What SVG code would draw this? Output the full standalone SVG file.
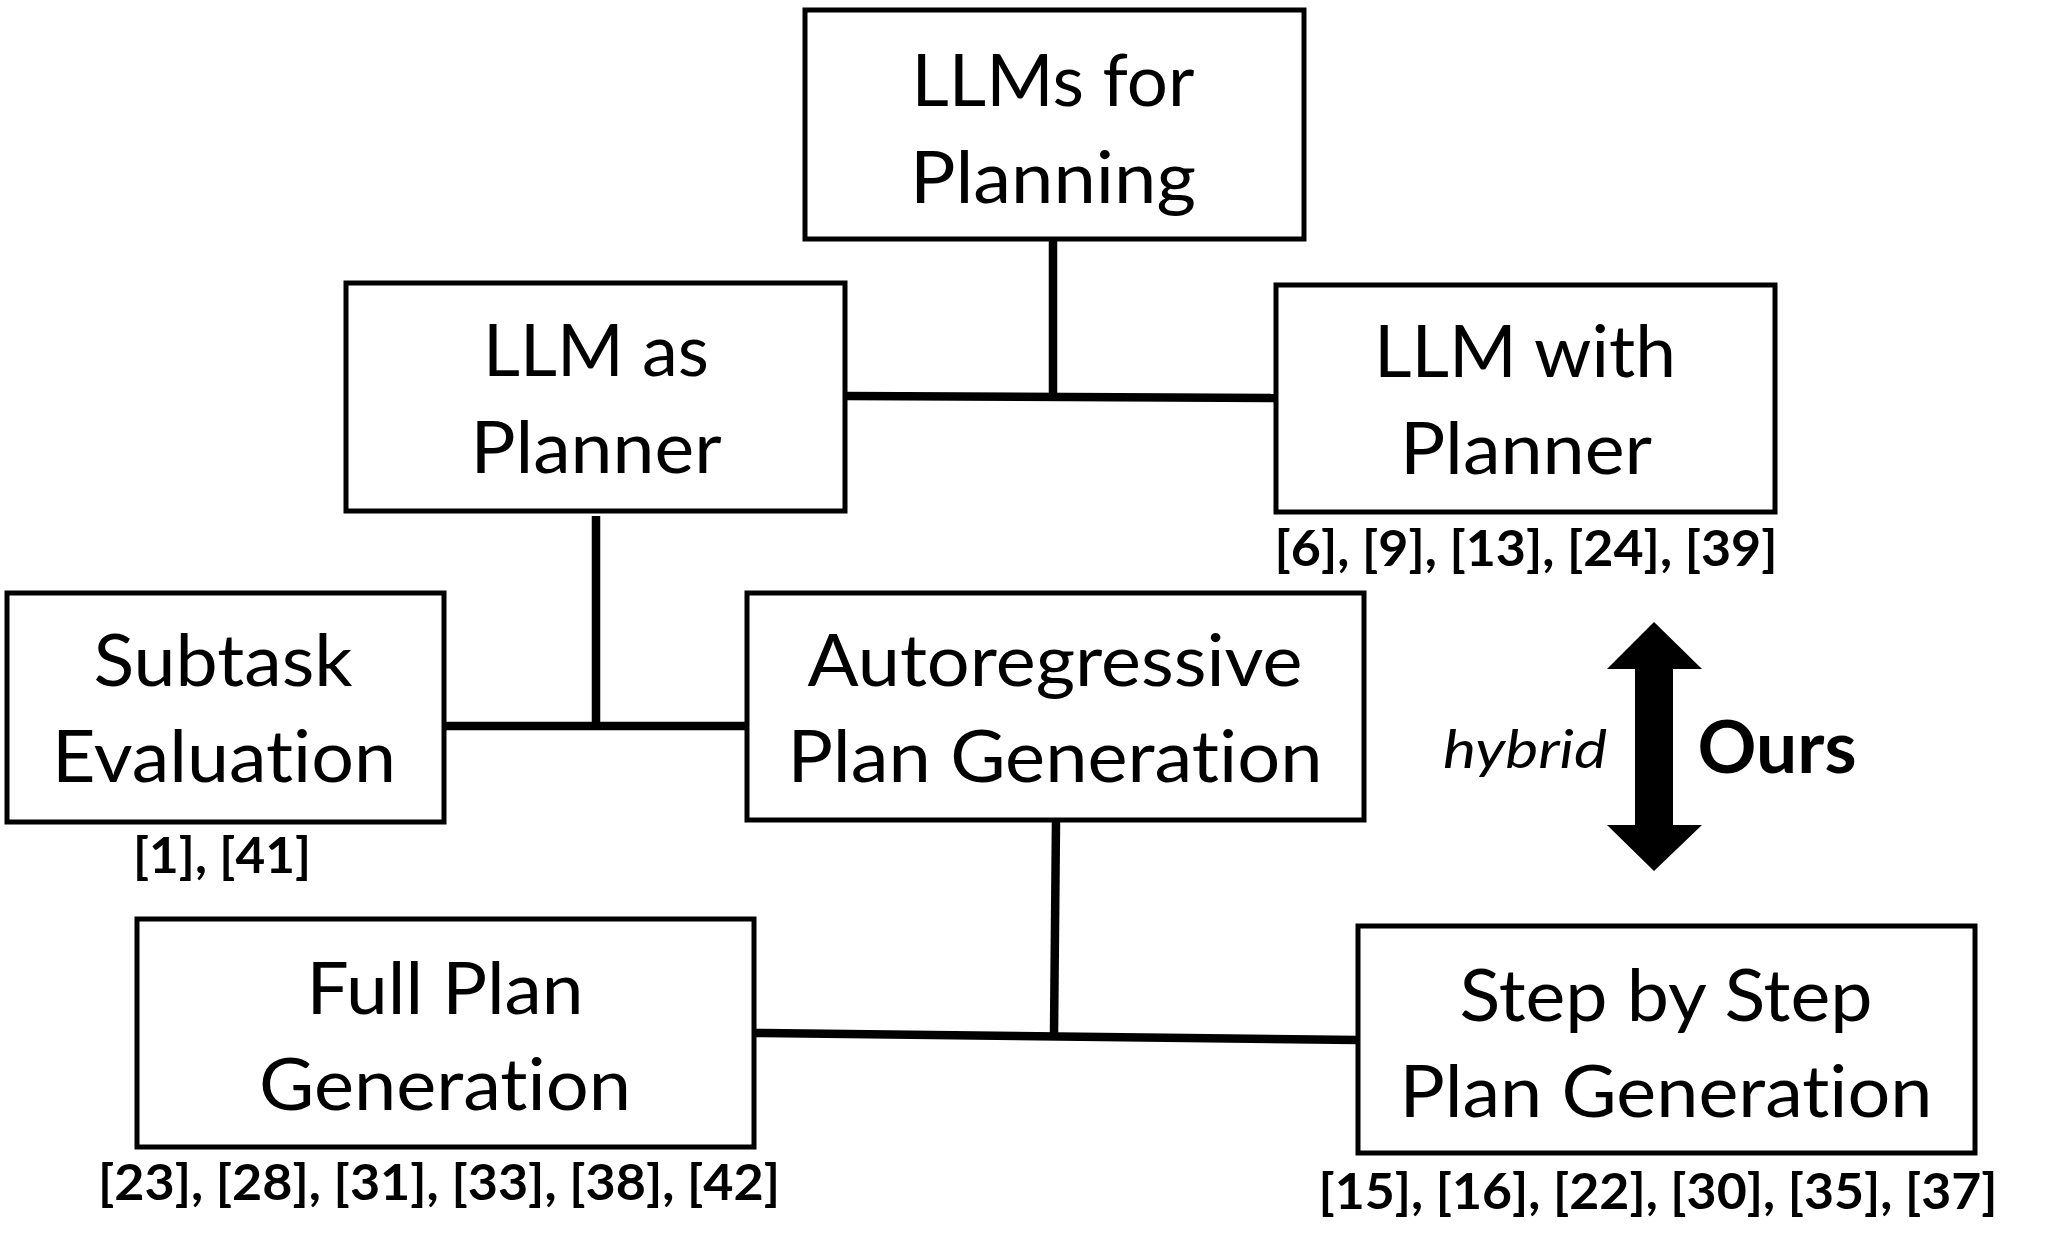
<svg xmlns="http://www.w3.org/2000/svg" width="2048" height="1257" viewBox="0 0 2048 1257">
<style>
text{font-variant-ligatures:none;font-feature-settings:"liga" 0,"clig" 0}
.box{fill:#fff;stroke:#000;stroke-width:5}
.t{font-family:Lato,"Open Sans","Liberation Sans",sans-serif;font-size:72px;fill:#000;text-anchor:middle}
.c{font-family:Lato,"Open Sans","Liberation Sans",sans-serif;font-size:50px;font-weight:bold;fill:#000;text-anchor:middle}
.con{stroke:#000;stroke-width:8.5;fill:none}
</style>
<rect width="2048" height="1257" fill="#fff"/>
<g id="connectors">
<line class="con" x1="1053" y1="239" x2="1053" y2="397"/>
<line class="con" x1="845" y1="396" x2="1276" y2="398"/>
<line class="con" x1="596" y1="516" x2="596" y2="726"/>
<line class="con" x1="444" y1="726" x2="747" y2="726"/>
<line class="con" x1="1056" y1="820" x2="1054" y2="1036"/>
<line class="con" x1="754" y1="1033" x2="1358" y2="1040"/>
</g>
<g id="n-llms-for-planning">
<rect class="box" x="805" y="10" width="499" height="229"/>
<text class="t" x="1053" y="106" textLength="283" lengthAdjust="spacingAndGlyphs">LLMs for</text>
<text class="t" x="1053" y="203" textLength="286" lengthAdjust="spacingAndGlyphs">Planning</text>
</g>
<g id="n-llm-as-planner">
<rect class="box" x="346" y="283" width="499" height="228"/>
<text class="t" x="596" y="376" textLength="226" lengthAdjust="spacingAndGlyphs">LLM as</text>
<text class="t" x="596" y="473" textLength="251" lengthAdjust="spacingAndGlyphs">Planner</text>
</g>
<g id="n-llm-with-planner">
<rect class="box" x="1276" y="285" width="499" height="227"/>
<text class="t" x="1525" y="377" textLength="302" lengthAdjust="spacingAndGlyphs">LLM with</text>
<text class="t" x="1526" y="474" textLength="252" lengthAdjust="spacingAndGlyphs">Planner</text>
<text class="c" x="1526" y="566" textLength="503" lengthAdjust="spacingAndGlyphs">[6], [9], [13], [24], [39]</text>
</g>
<g id="n-subtask-evaluation">
<rect class="box" x="7" y="593" width="437" height="229"/>
<text class="t" x="223" y="686" textLength="259" lengthAdjust="spacingAndGlyphs">Subtask</text>
<text class="t" x="224" y="782" textLength="344" lengthAdjust="spacingAndGlyphs">Evaluation</text>
<text class="c" x="222" y="873" textLength="178" lengthAdjust="spacingAndGlyphs">[1], [41]</text>
</g>
<g id="n-autoregressive">
<rect class="box" x="747" y="593" width="617" height="227"/>
<text class="t" x="1055" y="686" textLength="495" lengthAdjust="spacingAndGlyphs">Autoregressive</text>
<text class="t" x="1055" y="782" textLength="535" lengthAdjust="spacingAndGlyphs">Plan Generation</text>
</g>
<g id="n-full-plan">
<rect class="box" x="137" y="919" width="617" height="228"/>
<text class="t" x="445" y="1014" textLength="277" lengthAdjust="spacingAndGlyphs">Full Plan</text>
<text class="t" x="445" y="1110" textLength="372" lengthAdjust="spacingAndGlyphs">Generation</text>
<text class="c" x="439" y="1200" textLength="682" lengthAdjust="spacingAndGlyphs">[23], [28], [31], [33], [38], [42]</text>
</g>
<g id="n-step-by-step">
<rect class="box" x="1358" y="926" width="617" height="227"/>
<text class="t" x="1666" y="1021" textLength="413" lengthAdjust="spacingAndGlyphs">Step by Step</text>
<text class="t" x="1666" y="1117" textLength="533" lengthAdjust="spacingAndGlyphs">Plan Generation</text>
<text class="c" x="1658" y="1209" textLength="679" lengthAdjust="spacingAndGlyphs">[15], [16], [22], [30], [35], [37]</text>
</g>
<g id="n-ours">
<polygon points="1654,622 1702,669 1673,669 1673,825 1702,825 1654,871 1607,825 1635,825 1635,669 1607,669" fill="#000"/>
<text x="1525" y="768" font-family="Lato,'Open Sans',sans-serif" font-size="52" font-style="italic" text-anchor="middle" textLength="164" lengthAdjust="spacingAndGlyphs">hybrid</text>
<text x="1777" y="773" font-family="Lato,'Open Sans',sans-serif" font-size="72" font-weight="bold" text-anchor="middle" textLength="159" lengthAdjust="spacingAndGlyphs">Ours</text>
</g>
</svg>
